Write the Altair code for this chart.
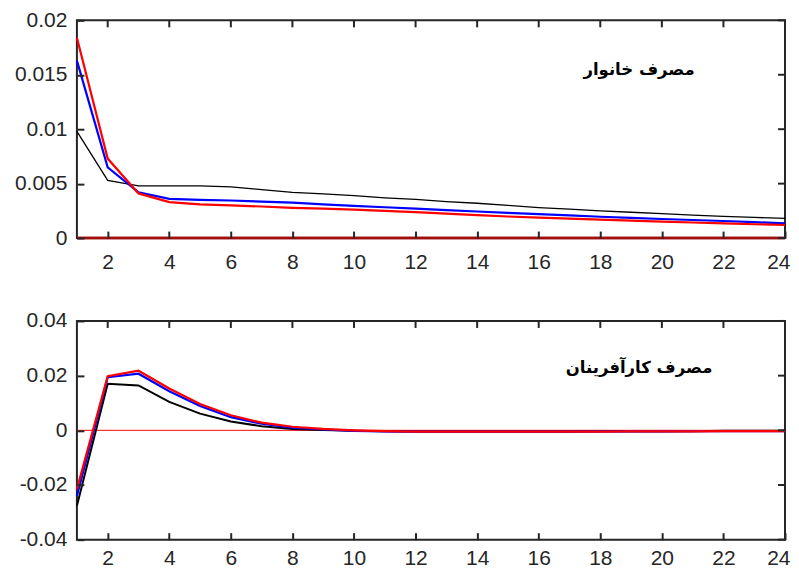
import altair as alt
import pandas as pd

periods = list(range(1, 25))
x_ticks = list(range(2, 25, 2))

# Panel 1: household consumption
hh_black = [0.0098, 0.0053, 0.0048, 0.0048, 0.0048, 0.0047, 0.00445, 0.0042, 0.00405, 0.0039,
            0.0037, 0.00355, 0.00335, 0.0032, 0.0030, 0.0028, 0.00265, 0.0025, 0.00237, 0.00224,
            0.00211, 0.0020, 0.0019, 0.0018]
hh_blue = [0.0163, 0.0065, 0.0042, 0.0036, 0.0035, 0.00345, 0.00335, 0.00325, 0.0031, 0.00296,
           0.00283, 0.0027, 0.00257, 0.00244, 0.00232, 0.0022, 0.00208, 0.00196, 0.00185, 0.00175,
           0.00166, 0.00157, 0.00146, 0.00135]
hh_red = [0.0184, 0.0073, 0.0041, 0.0033, 0.0031, 0.0030, 0.0029, 0.00277, 0.0027, 0.00262,
          0.0025, 0.00238, 0.00224, 0.0021, 0.00198, 0.00187, 0.00178, 0.00169, 0.0016, 0.00151,
          0.00143, 0.00135, 0.00127, 0.0012]

# Panel 2: entrepreneurs consumption
en_black = [-0.0276, 0.0170, 0.0164, 0.0104, 0.0061, 0.0032, 0.0015, 0.0005, 0.0001, -0.0002,
            -0.0003, -0.0004, -0.0004, -0.0004, -0.0004, -0.0004, -0.0004, -0.0003, -0.0003, -0.0003,
            -0.0003, -0.0002, -0.0002, -0.0002]
en_blue = [-0.0240, 0.0194, 0.0207, 0.0143, 0.0089, 0.0048, 0.0024, 0.0010, 0.0003, -0.0002,
           -0.0004, -0.0005, -0.0005, -0.0005, -0.0005, -0.0005, -0.0005, -0.0004, -0.0004, -0.0004,
           -0.0003, -0.0003, -0.0003, -0.0003]
en_red = [-0.0215, 0.0198, 0.0218, 0.0153, 0.0096, 0.0055, 0.0028, 0.0013, 0.0005, 0.0000,
          -0.0003, -0.0005, -0.0005, -0.0005, -0.0005, -0.0005, -0.0005, -0.0005, -0.0004, -0.0004,
          -0.0004, -0.0003, -0.0003, -0.0003]

top_y_ticks = [0, 0.005, 0.01, 0.015, 0.02]
bot_y_ticks = [-0.04, -0.02, 0, 0.02, 0.04]

top_title = "مصرف خانوار"
bot_title = "مصرف کارآفرینان"
top_title_pos = (19.26, 0.0154)
bot_title_pos = (19.26, 0.0227)

W = 709
H_TOP, H_BOT = 218, 219
TICK_PX = 7
TICK_W = 2
AXIS_COLOR = "#262626"
FONT = "Liberation Sans"
X_DOMAIN = [1, 24]
INWARD = {"expr": "-%d" % TICK_PX}  # negative tick length: ticks drawn inside the frame


def panel(black, blue, red, y_ticks, y_domain, zero_color, zero_width, black_width,
          title, title_pos, H, x_label_pad):
    xs = alt.Scale(domain=X_DOMAIN, nice=False, zero=False)
    ys = alt.Scale(domain=y_domain, nice=False, zero=False)
    x_axis = alt.Axis(values=x_ticks, tickSize=INWARD, tickWidth=TICK_W, tickColor=AXIS_COLOR,
                      tickOpacity=1, domain=False, grid=False, title=None,
                      labelFont=FONT, labelFontSize=21, labelColor=AXIS_COLOR,
                      labelPadding=x_label_pad + TICK_PX,
                      labelFlush=True, labelFlushOffset=5, zindex=2)
    y_axis = alt.Axis(values=y_ticks, tickSize=INWARD, tickWidth=TICK_W, tickColor=AXIS_COLOR,
                      tickOpacity=1, domain=False, grid=False, title=None,
                      labelFont=FONT, labelFontSize=21, labelColor=AXIS_COLOR,
                      labelPadding=10 + TICK_PX, zindex=2,
                      labelExpr="replace(datum.label, '\u2212', '-')", format="~g")

    def X(f):
        return alt.X(f, scale=xs, axis=x_axis)

    def Y(f):
        return alt.Y(f, scale=ys, axis=y_axis)

    layers = []
    zero_df = pd.DataFrame({"z": [0]})
    layers.append(alt.Chart(zero_df).mark_rule(color=zero_color, strokeWidth=zero_width).encode(y=Y("z:Q")))
    for vals, color, sw in [(black, "#000000", black_width), (blue, "#0000FF", 2.2), (red, "#FF0000", 2.2)]:
        df = pd.DataFrame({"period": periods, "value": vals})
        layers.append(
            alt.Chart(df).mark_line(color=color, strokeWidth=sw).encode(x=X("period:Q"), y=Y("value:Q"))
        )
    if zero_width > 1.5:
        layers.append(alt.Chart(zero_df).mark_rule(color=zero_color, strokeWidth=zero_width).encode(y=Y("z:Q")))

    # inward tick marks on the top and right sides; tick length converted from pixels to data units
    y0, y1 = y_domain
    dy = TICK_PX / H * (y1 - y0)
    dx = TICK_PX / W * (X_DOMAIN[1] - X_DOMAIN[0])
    xt_top = pd.DataFrame({"t": x_ticks, "a": [y1] * len(x_ticks), "b": [y1 - dy] * len(x_ticks)})
    yt_right = pd.DataFrame({"v": y_ticks, "a": [X_DOMAIN[1]] * len(y_ticks),
                             "b": [X_DOMAIN[1] - dx] * len(y_ticks)})
    ts = dict(color=AXIS_COLOR, strokeWidth=TICK_W, opacity=1)
    layers.append(alt.Chart(xt_top).mark_rule(**ts).encode(x=X("t:Q"), y=Y("a:Q"), y2="b:Q"))
    layers.append(alt.Chart(yt_right).mark_rule(**ts).encode(y=Y("v:Q"), x=X("a:Q"), x2="b:Q"))

    tdf = pd.DataFrame({"x": [title_pos[0]], "y": [title_pos[1]], "label": [title]})
    layers.append(alt.Chart(tdf).mark_text(font="DejaVu Sans", fontWeight="bold", fontSize=16.5,
                                           color="#000000").encode(
        x=X("x:Q"), y=Y("y:Q"), text="label:N"))
    return alt.layer(*layers).properties(width=W, height=H)


top = panel(hh_black, hh_blue, hh_red, top_y_ticks, [0, 0.02], "#A00F0F", 2.5, 1.3,
            top_title, top_title_pos, H_TOP, 13)
bot = panel(en_black, en_blue, en_red, bot_y_ticks, [-0.04, 0.04], "#FF0000", 1, 2.0,
            bot_title, bot_title_pos, H_BOT, 8)

chart = alt.vconcat(top, bot, spacing=36).properties(
    padding={"left": 5, "top": 0, "right": 0, "bottom": 0}
).configure_view(stroke=AXIS_COLOR, strokeWidth=2)

chart.save("out.html", embed_options={"renderer": "svg", "actions": False})
